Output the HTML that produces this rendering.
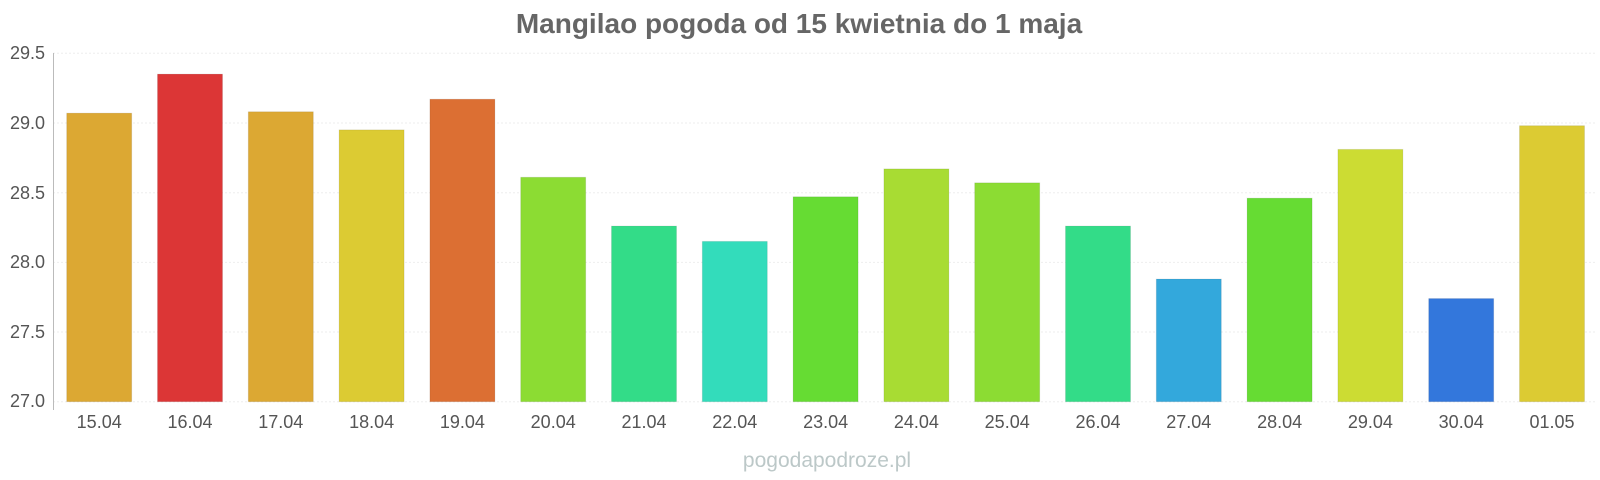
<!DOCTYPE html>
<html><head><meta charset="utf-8"><style>body{margin:0;background:#fff}svg{display:block}</style></head>
<body>
<svg width="1600" height="480" xmlns="http://www.w3.org/2000/svg" font-family="Liberation Sans, sans-serif">
<text x="799" y="33" text-anchor="middle" font-size="28" font-weight="bold" fill="#666">Mangilao pogoda od 15 kwietnia do 1 maja</text>
<g stroke="#eee" stroke-width="1" stroke-dasharray="2,2">
<line x1="53" x2="1597" y1="53.3" y2="53.3"/><line x1="53" x2="1597" y1="123" y2="123"/><line x1="53" x2="1597" y1="192.7" y2="192.7"/><line x1="53" x2="1597" y1="262.4" y2="262.4"/><line x1="53" x2="1597" y1="332" y2="332"/><line x1="53" x2="1597" y1="401.7" y2="401.7"/>
</g>
<line x1="53.5" x2="53.5" y1="53" y2="410" stroke="#bbb"/>
<g font-size="18" fill="#555" text-anchor="end">
<text x="45" y="59">29.5</text><text x="45" y="129">29.0</text><text x="45" y="199">28.5</text><text x="45" y="268">28.0</text><text x="45" y="338">27.5</text><text x="45" y="407">27.0</text>
</g>
<g id="bars"></g>
<g id="labels" font-size="18" fill="#555" text-anchor="middle"></g>
<text x="827" y="467" text-anchor="middle" font-size="21" fill="#bcc8c8">pogodapodroze.pl</text>
<script>
var v=[29.07,29.35,29.08,28.95,29.17,28.61,28.26,28.15,28.47,28.67,28.57,28.26,27.88,28.46,28.81,27.74,28.98];
var c=["#dca833","#dc3636","#dca833","#dccb33","#dc6f33","#8cdc33","#33dc88","#33dcbb","#66dc33","#a8dc33","#8cdc33","#33dc88","#33a8dc","#66dc33","#ccdc33","#3377dc","#dccb33"];
var l=["15.04","16.04","17.04","18.04","19.04","20.04","21.04","22.04","23.04","24.04","25.04","26.04","27.04","28.04","29.04","30.04","01.05"];
var ns="http://www.w3.org/2000/svg",b=document.getElementById("bars"),t=document.getElementById("labels");
for(var i=0;i<17;i++){var x=66.7+i*90.8,y=401.7-(v[i]-27)*139.4;
var r=document.createElementNS(ns,"rect");r.setAttribute("x",x);r.setAttribute("y",y);r.setAttribute("width",65);r.setAttribute("height",401.7-y);r.setAttribute("fill",c[i]);r.setAttribute("stroke","rgba(0,0,0,0.08)");b.appendChild(r);
var s=document.createElementNS(ns,"text");s.setAttribute("x",x+32.5);s.setAttribute("y",428);s.textContent=l[i];t.appendChild(s);}
</script>
</svg>
</body></html>
